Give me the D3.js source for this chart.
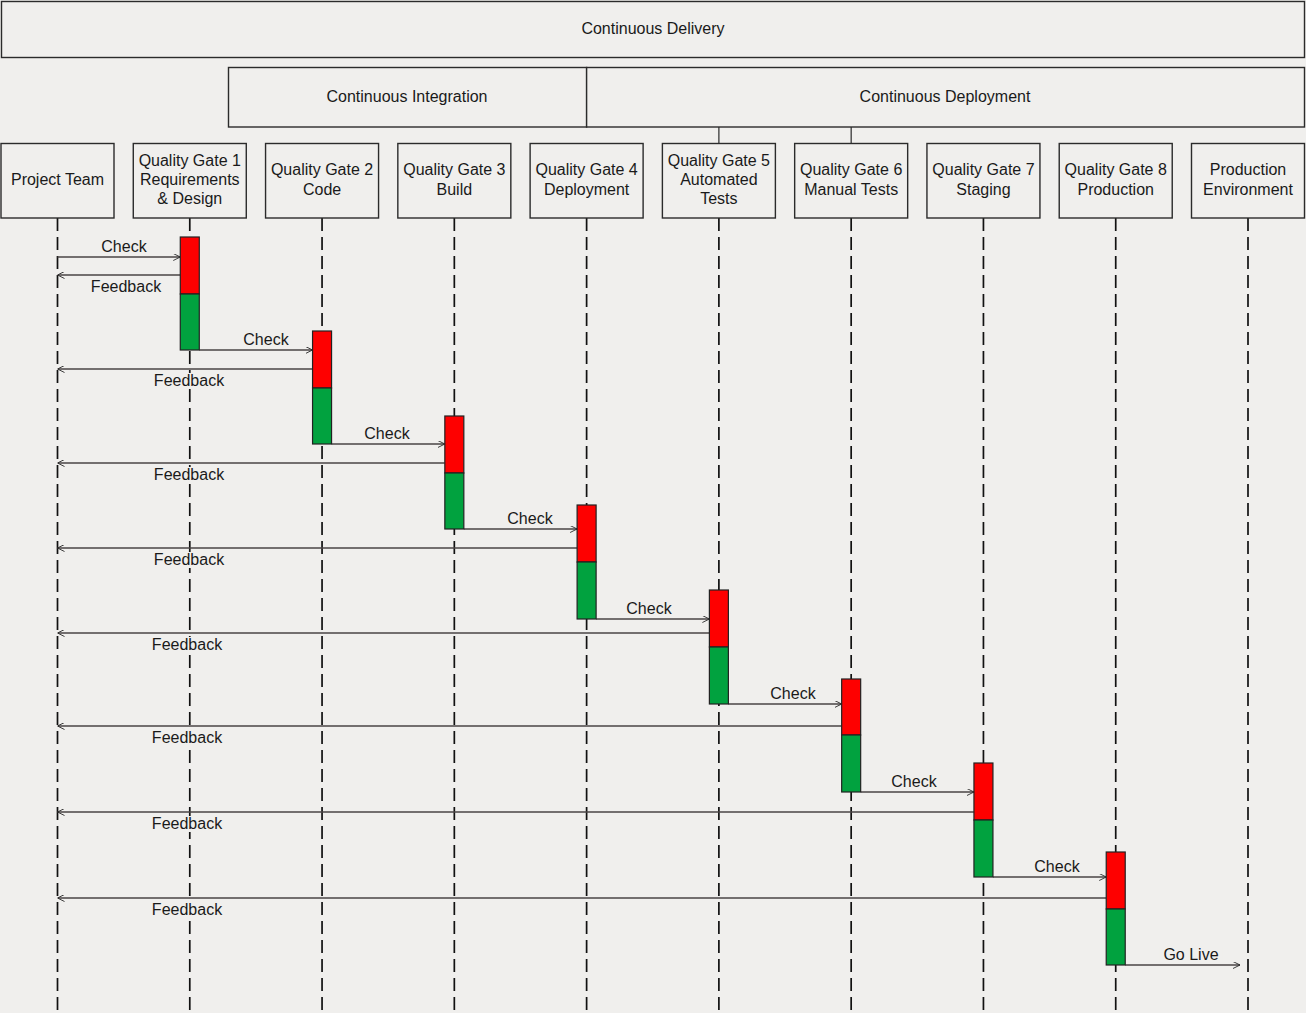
<!DOCTYPE html>
<html>
<head>
<meta charset="utf-8">
<script src="https://cdn.jsdelivr.net/npm/d3@7"></script>
<style>
  html, body { margin: 0; padding: 0; background: #f0efed; }
  svg { display: block; }
  text { font-family: "Liberation Sans", Arial, sans-serif; font-size: 16px; fill: #1a1a1a; }
</style>
</head>
<body>
<svg id="chart" width="1306" height="1013"></svg>
<script>
// ---------- data ----------
const lifelines = ["Project Team", "Quality Gate 1", "Quality Gate 2", "Quality Gate 3", "Quality Gate 4",
                   "Quality Gate 5", "Quality Gate 6", "Quality Gate 7", "Quality Gate 8", "Production Environment"];
const lifelineLabels = [
  ["Project Team"],
  ["Quality Gate 1", "Requirements", "& Design"],
  ["Quality Gate 2", "Code"],
  ["Quality Gate 3", "Build"],
  ["Quality Gate 4", "Deployment"],
  ["Quality Gate 5", "Automated", "Tests"],
  ["Quality Gate 6", "Manual Tests"],
  ["Quality Gate 7", "Staging"],
  ["Quality Gate 8", "Production"],
  ["Production", "Environment"]
];
const groupTop = ["Continuous Delivery"];
const groupMid = ["Continuous Integration", "Continuous Deployment"];
// gates: activation bars (time units = vertical position)
const gateNames = ["Quality Gate 1", "Quality Gate 2", "Quality Gate 3", "Quality Gate 4",
                   "Quality Gate 5", "Quality Gate 6", "Quality Gate 7", "Quality Gate 8"];
const barStart = [237, 331, 416, 505, 590, 679, 763, 852];
const barSplit = [294, 388, 473, 562, 647, 735, 820, 909];
const barEnd   = [350, 444, 529, 619, 704, 792, 877, 965];
const checkTime    = [257, 350, 444, 529, 619, 704, 792, 877];
const checkLabelX  = [124, 266, 387, 530, 649, 793, 914, 1057];
const feedbackTime = [275, 369, 463, 548, 633, 726, 812, 898];
const feedbackLabelX = [126, 189, 189, 189, 187, 187, 187, 187];
const goLiveTime = 965;
const goLiveLabelX = 1191;
const messageLabels = { check: "Check", feedback: "Feedback", live: "Go Live" };

// ---------- scales ----------
const W = 1306, H = 1013;
const x = d3.scalePoint().domain(lifelines).range([57.5, 1248]);
const y = d3.scaleLinear().domain([0, 1013]).range([0, 1013]);
const boxW = 113, barW = 19;
const ink = "#2b2b2b";
const bgCol = "#f0efed";

const svg = d3.select("#chart");

svg.append("defs").append("marker")
  .attr("id", "arr").attr("viewBox", "0 0 10 10")
  .attr("refX", 10).attr("refY", 5)
  .attr("markerWidth", 7).attr("markerHeight", 7)
  .attr("markerUnits", "userSpaceOnUse")
  .attr("orient", "auto-start-reverse")
  .append("path").attr("d", "M0,0 L10,5 L0,10")
  .attr("fill", "none").attr("stroke", ink).attr("stroke-width", 1.3);

// ---------- group boxes ----------
const g0 = svg.append("g");
g0.append("rect").attr("x", 1.5).attr("y", 1.5).attr("width", W - 3).attr("height", 56)
  .attr("fill", bgCol).attr("stroke", ink).attr("stroke-width", 1.4);
g0.append("text").attr("x", W / 2).attr("y", 28).attr("text-anchor", "middle")
  .attr("dominant-baseline", "central").text(groupTop[0]);

const midBounds = [[228.5, x("Quality Gate 4")], [x("Quality Gate 4"), W - 1.5]];
const midLabelX = [407, 945];
midBounds.forEach(([x0, x1], i) => {
  g0.append("rect").attr("x", x0).attr("y", 67.5)
    .attr("width", x1 - x0).attr("height", 59.5)
    .attr("fill", bgCol).attr("stroke", ink).attr("stroke-width", 1.4);
  g0.append("text").attr("x", midLabelX[i]).attr("y", 96).attr("text-anchor", "middle")
    .attr("dominant-baseline", "central").text(groupMid[i]);
});
["Quality Gate 5", "Quality Gate 6"].forEach(n => {
  g0.append("line").attr("x1", x(n)).attr("x2", x(n)).attr("y1", 127).attr("y2", 143)
    .attr("stroke", ink).attr("stroke-width", 1.2);
});

// ---------- lifelines ----------
const lg = svg.append("g");
lg.selectAll("line.life").data(lifelines).join("line")
  .attr("class", "life")
  .attr("x1", d => x(d)).attr("x2", d => x(d))
  .attr("y1", 218).attr("y2", H)
  .attr("stroke", "#111").attr("stroke-width", 1.7)
  .attr("stroke-dasharray", "13,6");

const boxes = lg.selectAll("g.box").data(lifelines).join("g").attr("class", "box");
boxes.append("rect")
  .attr("x", d => x(d) - boxW / 2).attr("y", 143.5)
  .attr("width", boxW).attr("height", 74.5)
  .attr("fill", bgCol).attr("stroke", ink).attr("stroke-width", 1.4);
boxes.each(function(d, i) {
  const lines = lifelineLabels[i];
  const lh = 19.3;
  const cy = 179.5;
  d3.select(this).selectAll("text").data(lines).join("text")
    .attr("x", x(d)).attr("text-anchor", "middle")
    .attr("y", (t, k) => cy + (k - (lines.length - 1) / 2) * lh)
    .attr("dominant-baseline", "central")
    .text(t => t);
});

// ---------- messages ----------
const mg = svg.append("g");
const labelLayer = svg.append("g");
function arrow(x1, x2, yy) {
  mg.append("line").attr("x1", x1).attr("x2", x2).attr("y1", yy).attr("y2", yy)
    .attr("stroke", "#4a4444").attr("stroke-width", 1.4).attr("marker-end", "url(#arr)");
}
function label(lx, ly, t) {
  const wEst = t.length * 8.6;
  labelLayer.append("rect")
    .attr("x", lx - wEst / 2 - 1).attr("y", ly - 12.5)
    .attr("width", wEst + 2).attr("height", 16)
    .attr("fill", bgCol);
  labelLayer.append("text").attr("x", lx).attr("y", ly).attr("text-anchor", "middle").text(t);
}
gateNames.forEach((g, i) => {
  const gx = x(g);
  const prevX = i === 0 ? x(lifelines[0]) : x(gateNames[i - 1]) + barW / 2;
  const cy = y(checkTime[i]);
  arrow(prevX, gx - barW / 2, cy);
  label(checkLabelX[i], cy - 5.5, messageLabels.check);
  const fy = y(feedbackTime[i]);
  arrow(gx - barW / 2, x(lifelines[0]), fy);
  label(feedbackLabelX[i], fy + 16.5, messageLabels.feedback);
});
{
  const last = gateNames[gateNames.length - 1];
  const x1 = x(last) + barW / 2, x2 = x(lifelines[lifelines.length - 1]) - 8;
  arrow(x1, x2, y(goLiveTime));
  label(goLiveLabelX, y(goLiveTime) - 5.5, messageLabels.live);
}

// ---------- activation bars ----------
const bg = svg.append("g");
gateNames.forEach((g, i) => {
  bg.append("rect").attr("x", x(g) - barW / 2).attr("y", y(barStart[i]))
    .attr("width", barW).attr("height", y(barSplit[i]) - y(barStart[i]))
    .attr("fill", "#fe0000").attr("stroke", "#222").attr("stroke-width", 1.2);
  bg.append("rect").attr("x", x(g) - barW / 2).attr("y", y(barSplit[i]))
    .attr("width", barW).attr("height", y(barEnd[i]) - y(barSplit[i]))
    .attr("fill", "#01a23f").attr("stroke", "#222").attr("stroke-width", 1.2);
});
</script>
</body>
</html>
